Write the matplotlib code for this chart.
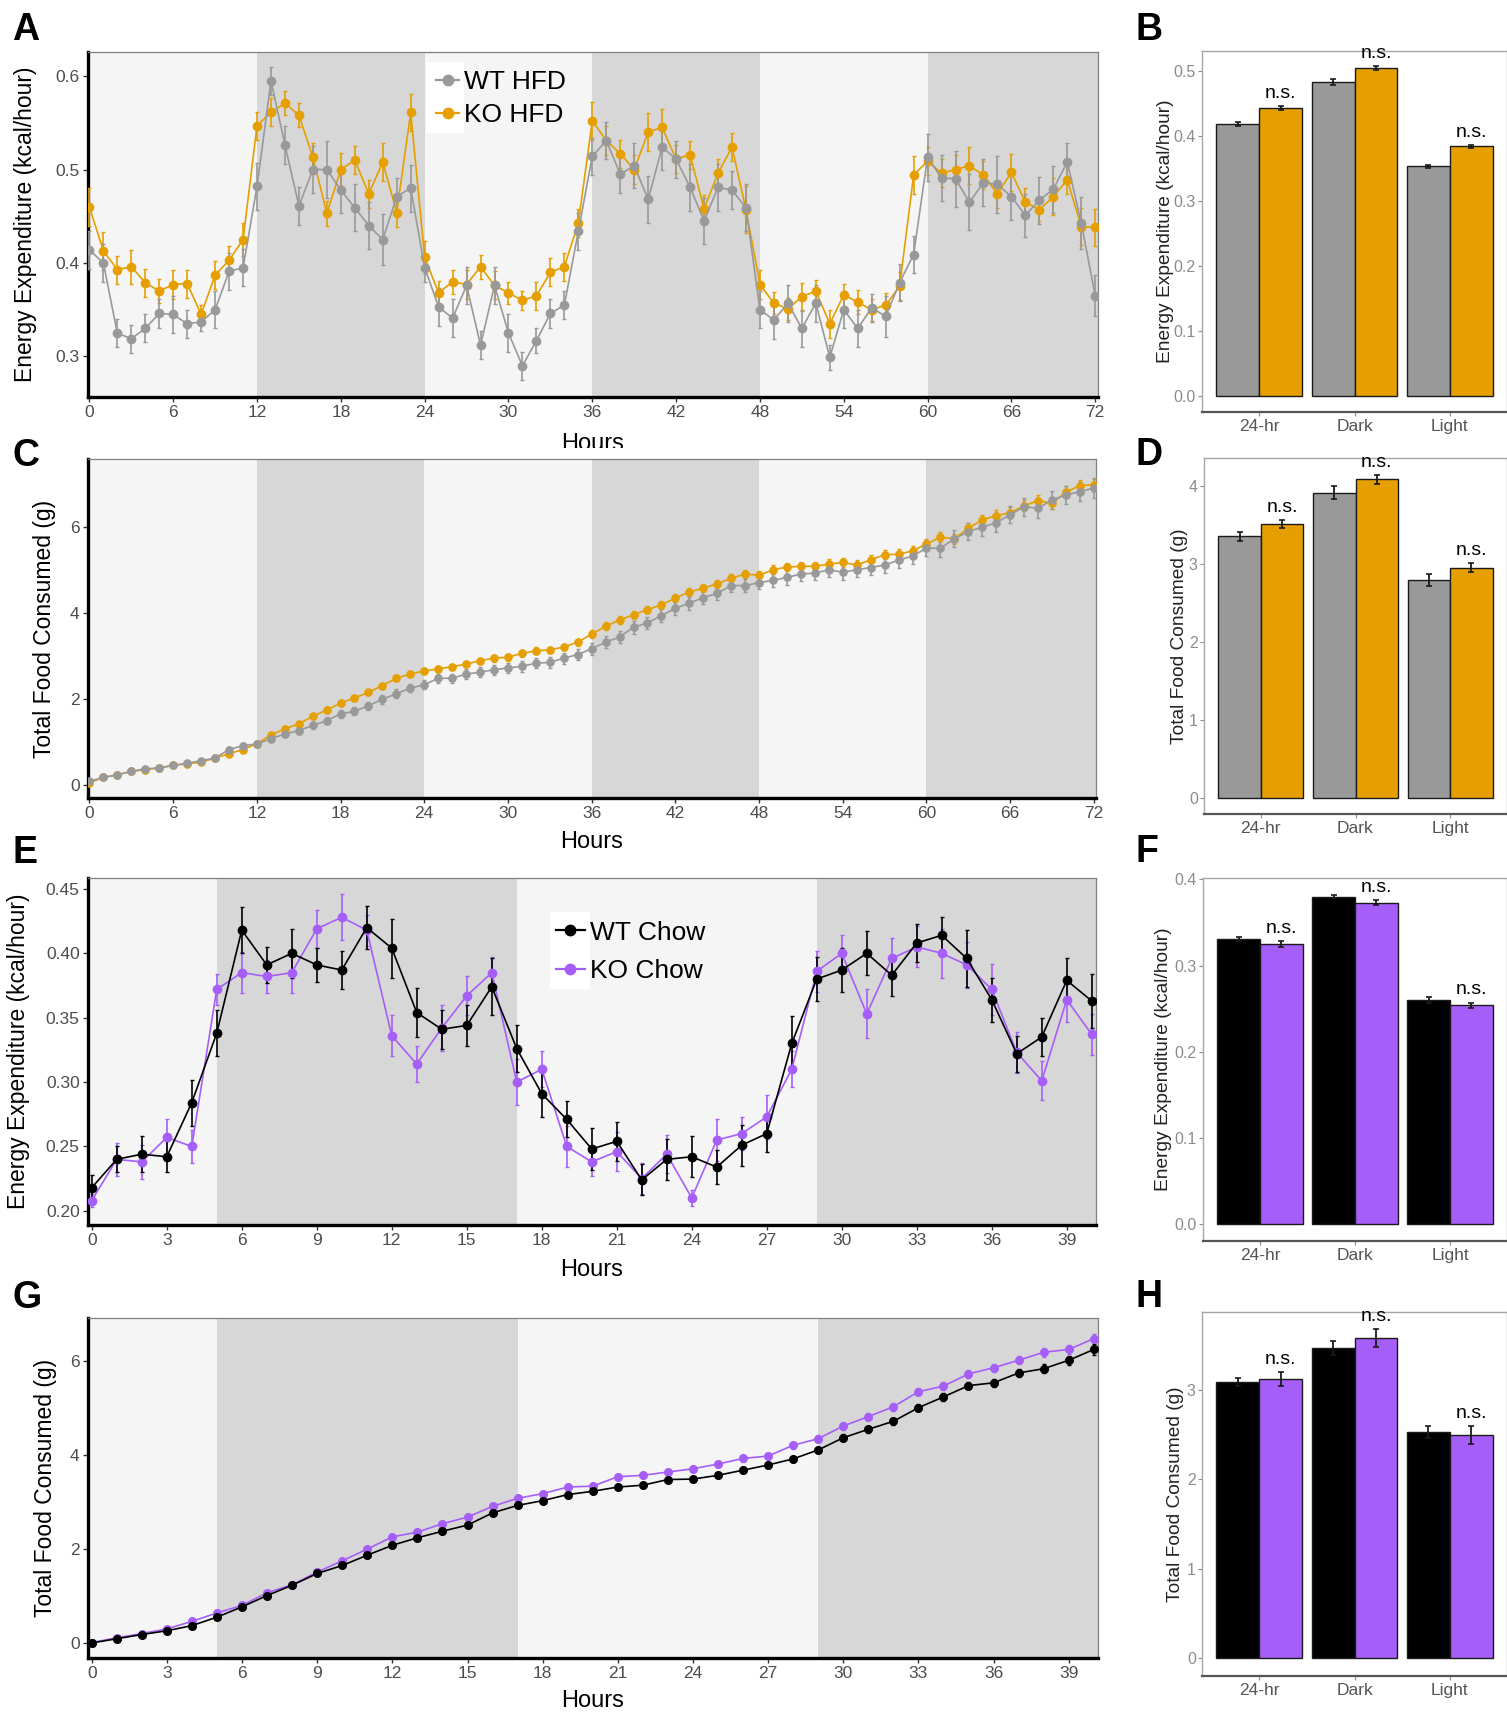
"""
Figura suplementar: gasto energetico e consumo alimentar (HFD e Chow).
Paineis A-H recriados com matplotlib.
"""
import numpy as np
import matplotlib
matplotlib.use("Agg")
import matplotlib.pyplot as plt
from matplotlib.lines import Line2D
from matplotlib.patches import Rectangle
from matplotlib.transforms import ScaledTranslation

plt.rcParams["font.family"] = ["Liberation Sans", "DejaVu Sans"]

# ======================================================================
# dados
# ======================================================================
HOURS_HFD = list(range(73))
HOURS_CHOW = list(range(41))

DARK_HFD = [(12, 24), (36, 48), (60, 73)]
DARK_CHOW = [(5, 17), (29, 41)]

# A - energy expenditure, HFD
EE_WT_HFD = [0.414, 0.400, 0.325, 0.319, 0.330, 0.346, 0.345, 0.335, 0.337, 0.350, 0.391, 0.395,
             0.482, 0.595, 0.526, 0.461, 0.500, 0.500, 0.478, 0.459, 0.440, 0.425, 0.471, 0.480,
             0.395, 0.353, 0.341, 0.376, 0.312, 0.376, 0.325, 0.290, 0.317, 0.346, 0.355, 0.434,
             0.514, 0.531, 0.495, 0.504, 0.468, 0.524, 0.511, 0.481, 0.445, 0.481, 0.478, 0.459,
             0.350, 0.339, 0.357, 0.330, 0.357, 0.299, 0.350, 0.330, 0.352, 0.343, 0.379, 0.409,
             0.513, 0.491, 0.490, 0.465, 0.486, 0.484, 0.471, 0.451, 0.467, 0.479, 0.508, 0.443,
             0.365]
EE_WT_HFD_SEM = [0.020, 0.020, 0.015, 0.015, 0.015, 0.015, 0.020, 0.015, 0.010, 0.020, 0.020, 0.020,
                 0.025, 0.015, 0.020, 0.020, 0.025, 0.030, 0.025, 0.025, 0.025, 0.027, 0.020, 0.025,
                 0.015, 0.020, 0.020, 0.020, 0.015, 0.020, 0.020, 0.015, 0.013, 0.015, 0.015, 0.020,
                 0.020, 0.020, 0.020, 0.024, 0.025, 0.025, 0.020, 0.025, 0.025, 0.025, 0.020, 0.025,
                 0.020, 0.020, 0.020, 0.020, 0.020, 0.013, 0.020, 0.020, 0.015, 0.022, 0.020, 0.020,
                 0.025, 0.025, 0.030, 0.030, 0.025, 0.030, 0.025, 0.023, 0.025, 0.025, 0.020, 0.028,
                 0.022]
EE_KO_HFD = [0.460, 0.413, 0.393, 0.396, 0.379, 0.370, 0.377, 0.378, 0.345, 0.387, 0.403, 0.425,
             0.547, 0.561, 0.571, 0.558, 0.513, 0.453, 0.500, 0.510, 0.474, 0.508, 0.454, 0.561,
             0.406, 0.368, 0.380, 0.377, 0.396, 0.376, 0.368, 0.360, 0.365, 0.390, 0.396, 0.443,
             0.552, 0.531, 0.517, 0.500, 0.540, 0.545, 0.511, 0.516, 0.458, 0.496, 0.524, 0.457,
             0.377, 0.357, 0.351, 0.364, 0.370, 0.335, 0.366, 0.358, 0.350, 0.355, 0.375, 0.494,
             0.509, 0.496, 0.500, 0.504, 0.494, 0.474, 0.497, 0.465, 0.457, 0.471, 0.489, 0.439,
             0.438]
EE_KO_HFD_SEM = [0.020, 0.020, 0.015, 0.018, 0.015, 0.013, 0.015, 0.015, 0.010, 0.015, 0.015, 0.018,
                 0.015, 0.015, 0.013, 0.013, 0.015, 0.013, 0.018, 0.015, 0.015, 0.020, 0.015, 0.020,
                 0.018, 0.013, 0.013, 0.015, 0.013, 0.015, 0.012, 0.010, 0.015, 0.015, 0.015, 0.015,
                 0.020, 0.015, 0.015, 0.015, 0.020, 0.020, 0.015, 0.015, 0.015, 0.015, 0.015, 0.025,
                 0.015, 0.012, 0.012, 0.015, 0.012, 0.015, 0.012, 0.013, 0.012, 0.013, 0.015, 0.020,
                 0.015, 0.015, 0.015, 0.020, 0.015, 0.015, 0.020, 0.015, 0.012, 0.020, 0.015, 0.020,
                 0.020]

# C - total food consumed, HFD
FOOD_WT_HFD = [0.08, 0.17, 0.23, 0.31, 0.37, 0.39, 0.45, 0.50, 0.56, 0.62, 0.82, 0.91,
               0.95, 1.07, 1.18, 1.26, 1.38, 1.49, 1.65, 1.71, 1.84, 1.99, 2.12, 2.25,
               2.33, 2.48, 2.48, 2.58, 2.62, 2.68, 2.72, 2.76, 2.83, 2.85, 2.95, 3.03,
               3.17, 3.32, 3.44, 3.67, 3.77, 3.94, 4.11, 4.23, 4.36, 4.46, 4.64, 4.64,
               4.71, 4.76, 4.83, 4.91, 4.93, 5.01, 4.95, 5.01, 5.06, 5.12, 5.23, 5.33,
               5.51, 5.51, 5.73, 5.90, 6.00, 6.11, 6.29, 6.48, 6.44, 6.64, 6.75, 6.83,
               6.91]
FOOD_WT_HFD_SEM = [0.02, 0.03, 0.03, 0.03, 0.04, 0.04, 0.04, 0.05, 0.05, 0.05, 0.06, 0.06,
                   0.06, 0.07, 0.07, 0.08, 0.08, 0.08, 0.09, 0.09, 0.09, 0.10, 0.10, 0.10,
                   0.10, 0.11, 0.11, 0.11, 0.12, 0.12, 0.12, 0.13, 0.12, 0.13, 0.13, 0.13,
                   0.14, 0.14, 0.14, 0.15, 0.14, 0.15, 0.15, 0.15, 0.16, 0.15, 0.16, 0.16,
                   0.16, 0.16, 0.17, 0.17, 0.16, 0.17, 0.18, 0.17, 0.18, 0.18, 0.18, 0.19,
                   0.19, 0.20, 0.20, 0.19, 0.20, 0.21, 0.20, 0.21, 0.22, 0.21, 0.22, 0.22,
                   0.23]
FOOD_KO_HFD = [0.04, 0.17, 0.23, 0.31, 0.35, 0.39, 0.45, 0.49, 0.52, 0.62, 0.72, 0.82,
               0.95, 1.16, 1.30, 1.42, 1.59, 1.74, 1.90, 2.02, 2.15, 2.31, 2.48, 2.58,
               2.65, 2.70, 2.75, 2.81, 2.89, 2.95, 2.97, 3.06, 3.12, 3.14, 3.21, 3.32,
               3.51, 3.69, 3.84, 3.96, 4.08, 4.19, 4.35, 4.49, 4.58, 4.68, 4.81, 4.91,
               4.88, 5.01, 5.07, 5.09, 5.09, 5.14, 5.18, 5.12, 5.24, 5.36, 5.37, 5.45,
               5.61, 5.77, 5.73, 5.98, 6.17, 6.27, 6.34, 6.50, 6.62, 6.56, 6.82, 6.97,
               6.99]
FOOD_KO_HFD_SEM = [0.02, 0.02, 0.02, 0.03, 0.03, 0.03, 0.03, 0.04, 0.04, 0.04, 0.04, 0.05,
                   0.05, 0.05, 0.05, 0.05, 0.06, 0.06, 0.06, 0.06, 0.06, 0.06, 0.07, 0.07,
                   0.07, 0.07, 0.07, 0.07, 0.07, 0.08, 0.08, 0.08, 0.08, 0.08, 0.08, 0.08,
                   0.09, 0.09, 0.09, 0.09, 0.09, 0.09, 0.09, 0.10, 0.10, 0.10, 0.10, 0.10,
                   0.10, 0.10, 0.10, 0.11, 0.11, 0.11, 0.11, 0.11, 0.11, 0.11, 0.12, 0.12,
                   0.12, 0.12, 0.12, 0.12, 0.12, 0.13, 0.13, 0.13, 0.13, 0.13, 0.13, 0.14,
                   0.14]

# E - energy expenditure, chow
EE_WT_CHOW = [0.218, 0.240, 0.244, 0.242, 0.284, 0.338, 0.418, 0.391, 0.400, 0.391, 0.387,
              0.420, 0.404, 0.354, 0.341, 0.344, 0.374, 0.326, 0.291, 0.271, 0.248,
              0.254, 0.224, 0.240, 0.242, 0.234, 0.251, 0.260, 0.330, 0.380, 0.387,
              0.400, 0.383, 0.408, 0.414, 0.396, 0.364, 0.322, 0.335, 0.379, 0.363]
EE_WT_CHOW_SEM = [0.010, 0.010, 0.014, 0.012, 0.018, 0.018, 0.018, 0.014, 0.019, 0.013, 0.015,
                  0.017, 0.023, 0.019, 0.015, 0.016, 0.022, 0.018, 0.018, 0.014, 0.016,
                  0.015, 0.012, 0.016, 0.016, 0.013, 0.016, 0.014, 0.021, 0.017, 0.017,
                  0.017, 0.016, 0.015, 0.014, 0.022, 0.017, 0.014, 0.015, 0.017, 0.021]
EE_KO_CHOW = [0.208, 0.240, 0.238, 0.257, 0.250, 0.372, 0.385, 0.382, 0.385, 0.419, 0.428,
              0.418, 0.336, 0.314, 0.342, 0.367, 0.385, 0.300, 0.310, 0.250, 0.238,
              0.246, 0.225, 0.244, 0.210, 0.255, 0.260, 0.273, 0.310, 0.386, 0.400,
              0.353, 0.396, 0.405, 0.400, 0.391, 0.372, 0.323, 0.301, 0.364, 0.337]
EE_KO_CHOW_SEM = [0.005, 0.013, 0.013, 0.014, 0.013, 0.012, 0.016, 0.013, 0.016, 0.015, 0.018,
                  0.012, 0.016, 0.014, 0.018, 0.015, 0.012, 0.018, 0.014, 0.016, 0.011,
                  0.015, 0.012, 0.015, 0.006, 0.016, 0.013, 0.017, 0.014, 0.016, 0.014,
                  0.019, 0.016, 0.016, 0.019, 0.018, 0.020, 0.016, 0.015, 0.017, 0.016]

# G - total food consumed, chow
FOOD_WT_CHOW = [0.00, 0.09, 0.18, 0.26, 0.37, 0.55, 0.77, 1.01, 1.23, 1.48, 1.65,
                1.87, 2.08, 2.24, 2.38, 2.51, 2.77, 2.93, 3.03, 3.16, 3.23,
                3.32, 3.36, 3.48, 3.49, 3.57, 3.68, 3.79, 3.92, 4.11, 4.37,
                4.55, 4.72, 5.01, 5.24, 5.48, 5.54, 5.75, 5.84, 6.02, 6.25]
FOOD_WT_CHOW_SEM = [0.01, 0.02, 0.02, 0.03, 0.03, 0.03, 0.03, 0.04, 0.04, 0.04, 0.04,
                    0.05, 0.05, 0.05, 0.05, 0.05, 0.05, 0.05, 0.05, 0.05, 0.05,
                    0.05, 0.05, 0.06, 0.06, 0.06, 0.06, 0.06, 0.06, 0.07, 0.07,
                    0.07, 0.07, 0.08, 0.08, 0.08, 0.09, 0.09, 0.09, 0.10, 0.11]
FOOD_KO_CHOW = [0.01, 0.11, 0.20, 0.30, 0.46, 0.64, 0.80, 1.07, 1.24, 1.51, 1.75,
                2.00, 2.26, 2.36, 2.54, 2.68, 2.91, 3.08, 3.18, 3.32, 3.34,
                3.54, 3.57, 3.64, 3.71, 3.81, 3.93, 3.98, 4.21, 4.35, 4.62,
                4.82, 5.03, 5.35, 5.47, 5.73, 5.86, 6.02, 6.19, 6.25, 6.48]
FOOD_KO_CHOW_SEM = [0.01, 0.02, 0.02, 0.03, 0.03, 0.03, 0.03, 0.04, 0.04, 0.04, 0.04,
                    0.04, 0.05, 0.05, 0.05, 0.05, 0.05, 0.05, 0.06, 0.06, 0.06,
                    0.06, 0.06, 0.06, 0.06, 0.07, 0.07, 0.07, 0.07, 0.07, 0.08,
                    0.08, 0.08, 0.08, 0.09, 0.09, 0.09, 0.09, 0.10, 0.10, 0.10]

# B, D, F, H - medias por periodo
PERIODS = ["24-hr", "Dark", "Light"]
B_WT, B_WT_ERR = [0.418, 0.483, 0.353], [0.003, 0.004, 0.003]
B_KO, B_KO_ERR = [0.443, 0.504, 0.384], [0.003, 0.003, 0.002]
D_WT, D_WT_ERR = [3.35, 3.91, 2.79], [0.06, 0.08, 0.08]
D_KO, D_KO_ERR = [3.51, 4.08, 2.95], [0.05, 0.06, 0.06]
F_WT, F_WT_ERR = [0.331, 0.380, 0.260], [0.002, 0.002, 0.003]
F_KO, F_KO_ERR = [0.325, 0.373, 0.254], [0.003, 0.003, 0.003]
H_WT, H_WT_ERR = [3.09, 3.47, 2.53], [0.05, 0.08, 0.07]
H_KO, H_KO_ERR = [3.12, 3.58, 2.50], [0.08, 0.10, 0.10]

# ======================================================================
# estilo
# ======================================================================
W, H = 1507, 1714
GRAY = "#999999"
ORANGE = "#E69F00"
BLACK = "#000000"
PURPLE = "#A65EF8"
LIGHT_BG = "#F5F5F5"
DARK_BG = "#D7D7D7"

fig = plt.figure(figsize=(W / 100, H / 100), dpi=100)


def px_rect(left, top, right, bottom):
    """Converte caixa em pixels (origem no topo) para fracao da figura."""
    return [left / W, 1 - bottom / H, (right - left) / W, (bottom - top) / H]


def below(ax, px):
    return ax.transAxes + ScaledTranslation(0, -px / 100, fig.dpi_scale_trans)


def line_panel(rect, x, wt, wt_sem, ko, ko_sem, wt_c, ko_c, dark, xlim, ylim,
               xticks, yticks, yfmt, ylabel, ylabel_px, ms):
    ax = fig.add_axes(rect)
    ax.set_facecolor(LIGHT_BG)
    for a, b in dark:
        ax.axvspan(a, b, color=DARK_BG, lw=0, zorder=0)

    # KO primeiro, WT por cima
    for y, s, c in ((ko, ko_sem, ko_c), (wt, wt_sem, wt_c)):
        ax.errorbar(x, y, yerr=s, color=c, lw=1.2, marker="o", ms=ms,
                    elinewidth=1.2, capsize=1.4, capthick=1.0, zorder=3)

    ax.set_xlim(*xlim)
    ax.set_ylim(*ylim)
    ax.set_xticks(xticks)
    ax.set_yticks(yticks)
    ax.set_yticklabels([yfmt.format(v) for v in yticks])
    for side in ("left", "bottom"):
        ax.spines[side].set_linewidth(2.4)
        ax.spines[side].set_color("black")
    for side in ("top", "right"):
        ax.spines[side].set_linewidth(0.9)
        ax.spines[side].set_color("#808080")
    ax.tick_params(length=3.5, width=1.0, color="#333333", labelsize=12.5,
                   labelcolor="#4d4d4d", pad=2.5)

    x0 = (ylabel_px - rect[0] * W) / (rect[2] * W)
    ax.text(x0, 0.5, ylabel, rotation=90, ha="center", va="center",
            fontsize=16.5, transform=ax.transAxes)
    return ax


def bar_panel(rect, wt, wt_err, ko, ko_err, wt_c, ko_c, ylim, yticks, yfmt,
              ylabel, ylabel_px):
    ax = fig.add_axes(rect)
    pos = np.arange(1, len(PERIODS) + 1)
    ax.bar(pos - 0.225, wt, width=0.45, color=wt_c, edgecolor="#1a1a1a", lw=1.0, zorder=2)
    ax.bar(pos + 0.225, ko, width=0.45, color=ko_c, edgecolor="#1a1a1a", lw=1.0, zorder=2)
    ax.errorbar(pos - 0.225, wt, yerr=wt_err, fmt="none", ecolor="#1a1a1a",
                elinewidth=1.3, capsize=2.0, capthick=1.2, zorder=3)
    ax.errorbar(pos + 0.225, ko, yerr=ko_err, fmt="none", ecolor="#1a1a1a",
                elinewidth=1.3, capsize=2.0, capthick=1.2, zorder=3)
    for p, v, e in zip(pos + 0.225, ko, ko_err):
        ax.annotate("n.s.", (p, v + e), xytext=(0, 3), textcoords="offset points",
                    ha="center", va="bottom", fontsize=14, annotation_clip=False)

    ax.set_xlim(0.4, 3.6)
    ax.set_ylim(*ylim)
    ax.set_xticks(pos)
    ax.set_xticklabels(PERIODS)
    ax.set_yticks(yticks)
    ax.set_yticklabels([yfmt.format(v) for v in yticks])
    for side in ("top", "right", "left"):
        ax.spines[side].set_color("#a6a6a6")
        ax.spines[side].set_linewidth(1.0)
    ax.spines["bottom"].set_color("#555555")
    ax.spines["bottom"].set_linewidth(1.6)
    ax.tick_params(axis="y", length=3, width=0.8, color="#8c8c8c", labelsize=11.5,
                   labelcolor="#8c8c8c", pad=1.5)
    ax.tick_params(axis="x", length=3, width=0.8, color="#8c8c8c", labelsize=12.5,
                   labelcolor="#555555", pad=2)

    x0 = (ylabel_px - rect[0] * W) / (rect[2] * W)
    ax.text(x0, 0.5, ylabel, rotation=90, ha="center", va="center",
            fontsize=13.8, color="#222222", transform=ax.transAxes)
    return ax


def legend_with_keys(ax, labels, colors, anchor, key_box, spacing, hlen):
    """Legenda estilo ggplot: so a area das chaves tem fundo branco."""
    bx0, by0, bx1, by1 = key_box
    ax.add_patch(Rectangle((bx0, by0), bx1 - bx0, by1 - by0, transform=ax.transAxes,
                           facecolor="white", edgecolor="none", zorder=4))
    handles = [Line2D([], [], color=c, marker="o", ms=7.5, lw=1.6) for c in colors]
    leg = ax.legend(handles, labels, loc="upper left", bbox_to_anchor=anchor,
                    frameon=False, fontsize=19, handlelength=hlen, handletextpad=0.2,
                    labelspacing=spacing, borderpad=0, borderaxespad=0)
    leg.set_zorder(5)


def hours_label(ax, px):
    fig.text(0.5, 0.0, "Hours", fontsize=17, ha="center", va="center",
             transform=below(ax, px))


def main():
    # --- A ---
    ax_a = line_panel(px_rect(88, 51.7, 1098, 396.7), HOURS_HFD,
                      EE_WT_HFD, EE_WT_HFD_SEM, EE_KO_HFD, EE_KO_HFD_SEM, GRAY, ORANGE,
                      DARK_HFD, (-0.1, 72.2), (0.257, 0.626), list(range(0, 73, 6)),
                      [0.3, 0.4, 0.5, 0.6], "{:.1f}", "Energy Expenditure (kcal/hour)", 26, 6)
    legend_with_keys(ax_a, ["WT HFD", "KO HFD"], [GRAY, ORANGE],
                     (0.3446, 0.946), (0.335, 0.764, 0.372, 0.970), 0.33, 0.87)
    hours_label(ax_a, 47)
    # a imagem do painel C cobre a parte de baixo do "Hours" do painel A
    fig.add_artist(Rectangle((480 / W, 1 - 458 / H), 230 / W, 10 / H,
                             transform=fig.transFigure, facecolor="white",
                             edgecolor="none", zorder=10))

    # --- C ---
    ax_c = line_panel(px_rect(88, 459, 1096, 798), HOURS_HFD,
                      FOOD_WT_HFD, FOOD_WT_HFD_SEM, FOOD_KO_HFD, FOOD_KO_HFD_SEM, GRAY, ORANGE,
                      DARK_HFD, (-0.1, 72.15), (-0.31, 7.59), list(range(0, 73, 6)),
                      [0, 2, 4, 6], "{:d}", "Total Food Consumed (g)", 45, 5.2)
    hours_label(ax_c, 44)

    # --- E ---
    ax_e = line_panel(px_rect(88, 878, 1096, 1225), HOURS_CHOW,
                      EE_WT_CHOW, EE_WT_CHOW_SEM, EE_KO_CHOW, EE_KO_CHOW_SEM, BLACK, PURPLE,
                      DARK_CHOW, (-0.15, 40.17), (0.189, 0.4585), list(range(0, 40, 3)),
                      [0.20, 0.25, 0.30, 0.35, 0.40, 0.45], "{:.2f}",
                      "Energy Expenditure (kcal/hour)", 19, 6)
    legend_with_keys(ax_e, ["WT Chow", "KO Chow"], [BLACK, PURPLE],
                     (0.464, 0.877), (0.458, 0.680, 0.498, 0.902), 0.56, 1.1)
    hours_label(ax_e, 45)

    # --- G ---
    ax_g = line_panel(px_rect(88, 1318, 1098, 1658), HOURS_CHOW,
                      FOOD_WT_CHOW, FOOD_WT_CHOW_SEM, FOOD_KO_CHOW, FOOD_KO_CHOW_SEM, BLACK, PURPLE,
                      DARK_CHOW, (-0.15, 40.17), (-0.32, 6.92), list(range(0, 40, 3)),
                      [0, 2, 4, 6], "{:d}", "Total Food Consumed (g)", 46, 5.5)
    hours_label(ax_g, 43)

    # --- barras ---
    bar_panel(px_rect(1202, 50.7, 1507, 412), B_WT, B_WT_ERR, B_KO, B_KO_ERR, GRAY, ORANGE,
              (-0.0246, 0.531), [0.0, 0.1, 0.2, 0.3, 0.4, 0.5], "{:.1f}",
              "Energy Expenditure (kcal/hour)", 1165)
    bar_panel(px_rect(1204, 458, 1507, 814), D_WT, D_WT_ERR, D_KO, D_KO_ERR, GRAY, ORANGE,
              (-0.205, 4.355), [0, 1, 2, 3, 4], "{:d}", "Total Food Consumed (g)", 1180)
    bar_panel(px_rect(1203, 878, 1507, 1240.7), F_WT, F_WT_ERR, F_KO, F_KO_ERR, BLACK, PURPLE,
              (-0.019, 0.4015), [0.0, 0.1, 0.2, 0.3, 0.4], "{:.1f}",
              "Energy Expenditure (kcal/hour)", 1164)
    bar_panel(px_rect(1202, 1311.7, 1507, 1675.7), H_WT, H_WT_ERR, H_KO, H_KO_ERR, BLACK, PURPLE,
              (-0.20, 3.878), [0, 1, 2, 3], "{:d}", "Total Food Consumed (g)", 1175)

    # letras dos paineis
    letters = [("A", 12, 40), ("B", 1136, 40), ("C", 12, 466), ("D", 1136, 465),
               ("E", 12, 863), ("F", 1136, 862), ("G", 12, 1308), ("H", 1136, 1307)]
    for lab, x, y in letters:
        fig.text(x / W, 1 - y / H, lab, fontsize=27, fontweight="bold",
                 ha="left", va="baseline")

    fig.savefig("out.png", dpi=100)


if __name__ == "__main__":
    main()
